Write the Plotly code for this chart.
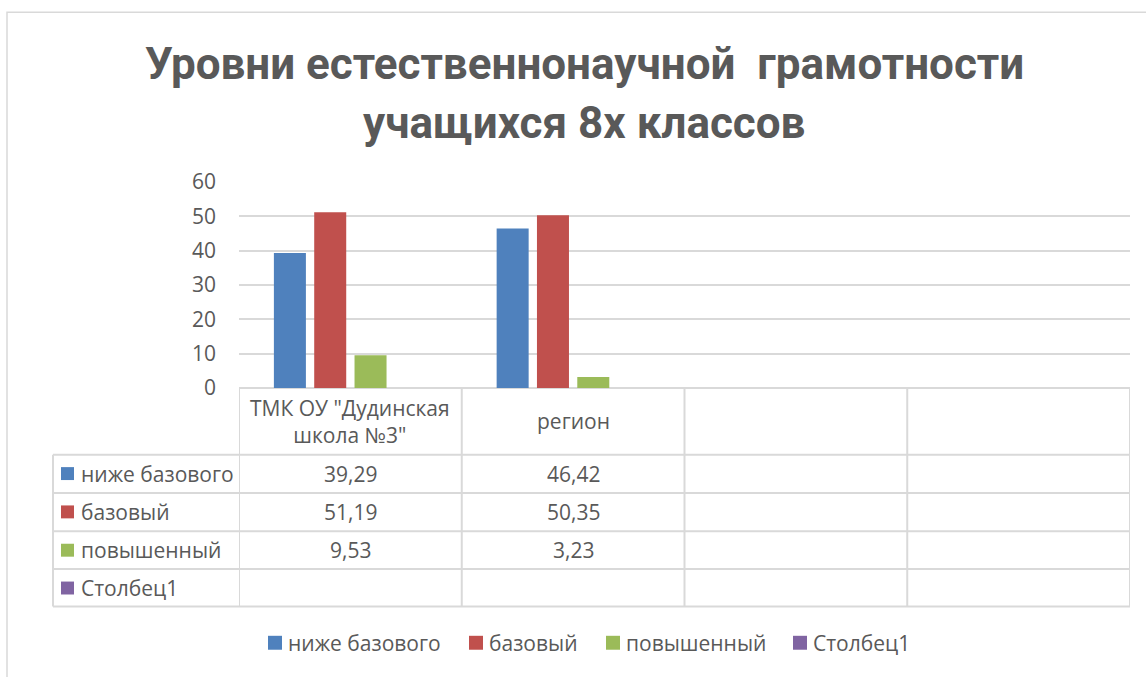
import plotly.graph_objects as go

categories = ['ТМК ОУ "Дудинская<br>школа №3"', "регион", "", ""]
series_names = ["ниже базового", "базовый", "повышенный", "Столбец1"]
below_basic = [39.29, 46.42, None, None]
basic = [51.19, 50.35, None, None]
advanced = [9.53, 3.23, None, None]
column1 = [None, None, None, None]
y_ticks = [0, 10, 20, 30, 40, 50, 60]

colors = ["#4F81BD", "#C0504D", "#9BBB59", "#8064A2"]
values = [below_basic, basic, advanced, column1]

W, H = 1146, 677
L, R, T, B = 239, 1130, 181.5, 388.5  # plot area in pixels
FONT = "Open Sans"
FS = 21
GREY = "#595959"
LINE = "#D9D9D9"


def px(x):
    return (x - L) / (R - L)


def py(y):
    return (B - y) / (B - T)


xs = list(range(len(categories)))

fig = go.Figure()
for name, vals, col in zip(series_names, values, colors):
    fig.add_trace(go.Bar(x=xs, y=vals, name=name, marker_color=col,
                         marker_line_width=0, hoverinfo="y+name"))

shapes = [
    # chart border
    dict(type="rect", xref="paper", yref="paper", x0=px(7), x1=px(1170),
         y0=py(700), y1=py(11), line=dict(color=LINE, width=1.5), layer="below"),
]

# data table under the axis
row_lines = [455.5, 494, 532.5, 570.5, 608]
for ry in row_lines:
    shapes.append(dict(type="line", xref="paper", yref="paper", x0=px(53), x1=1,
                       y0=py(ry), y1=py(ry), line=dict(color=LINE, width=2)))
for i in range(len(categories) + 1):
    shapes.append(dict(type="line", xref="x", yref="paper", x0=i - 0.5, x1=i - 0.5,
                       y0=0, y1=py(608), line=dict(color=LINE, width=2)))
shapes.append(dict(type="line", xref="paper", yref="paper", x0=px(53), x1=px(53),
                   y0=py(455.5), y1=py(608), line=dict(color=LINE, width=2)))

txt = dict(family=FONT, size=FS, color=GREY)
annotations = []
for i, cat in enumerate(categories):
    annotations.append(dict(x=i, y=py(422), xref="x", yref="paper", text=cat,
                            showarrow=False, yanchor="middle", font=txt))

row_centers = [474.5, 513, 551.5, 589.5]
for cy, name, vals, col in zip(row_centers, series_names, values, colors):
    shapes.append(dict(type="rect", xref="paper", yref="paper", x0=px(61), x1=px(74),
                       y0=py(cy + 6.5), y1=py(cy - 6.5), fillcolor=col, line_width=0))
    annotations.append(dict(x=px(79), y=py(cy), xref="paper", yref="paper", text=name,
                            xanchor="left", yanchor="middle", showarrow=False, font=txt))
    for i, v in enumerate(vals):
        if v is None:
            continue
        annotations.append(dict(x=i, y=py(cy), xref="x", yref="paper",
                                text=f"{v:.2f}".replace(".", ","), showarrow=False,
                                yanchor="middle", font=txt))

# legend drawn like the Excel one
legend_x = [268, 469, 606, 793]
legend_y = 644.5
for lx, name, col in zip(legend_x, series_names, colors):
    shapes.append(dict(type="rect", xref="paper", yref="paper", x0=px(lx), x1=px(lx + 14),
                       y0=py(legend_y + 7), y1=py(legend_y - 7), fillcolor=col, line_width=0))
    annotations.append(dict(x=px(lx + 18), y=py(legend_y), xref="paper", yref="paper",
                            text=name, xanchor="left", yanchor="middle", showarrow=False,
                            font=txt))

title_lines = ["Уровни естественнонаучной  грамотности", "учащихся 8х классов"]
for line, cy in zip(title_lines, [63, 122]):
    annotations.append(dict(x=px(584), y=py(cy), xref="paper", yref="paper",
                            text=f"<b>{line.replace('  ', '&nbsp; ')}</b>", showarrow=False,
                            xanchor="center", yanchor="middle",
                            font=dict(family="Roboto", size=44, color=GREY)))

fig.update_layout(
    width=W, height=H,
    margin=dict(l=L, r=W - R, t=T, b=H - B, pad=0),
    paper_bgcolor="white", plot_bgcolor="white",
    barmode="group", bargap=0.276, bargroupgap=0.206,
    font=dict(family=FONT, size=FS, color=GREY),
    shapes=shapes, annotations=annotations,
    showlegend=False,
)
fig.update_xaxes(range=[-0.5, len(categories) - 0.5], showticklabels=False,
                 showgrid=False, zeroline=False, showline=False, ticks="")
fig.update_yaxes(range=[0, 60], tickvals=y_ticks, showgrid=True, gridcolor=LINE,
                 gridwidth=1.5, zeroline=True, zerolinecolor=LINE, zerolinewidth=2,
                 ticks="", ticklabelstandoff=22, tickfont=txt)

fig.write_html("out.html", config={"displayModeBar": False},
               post_script="document.body.style.margin='0';")
